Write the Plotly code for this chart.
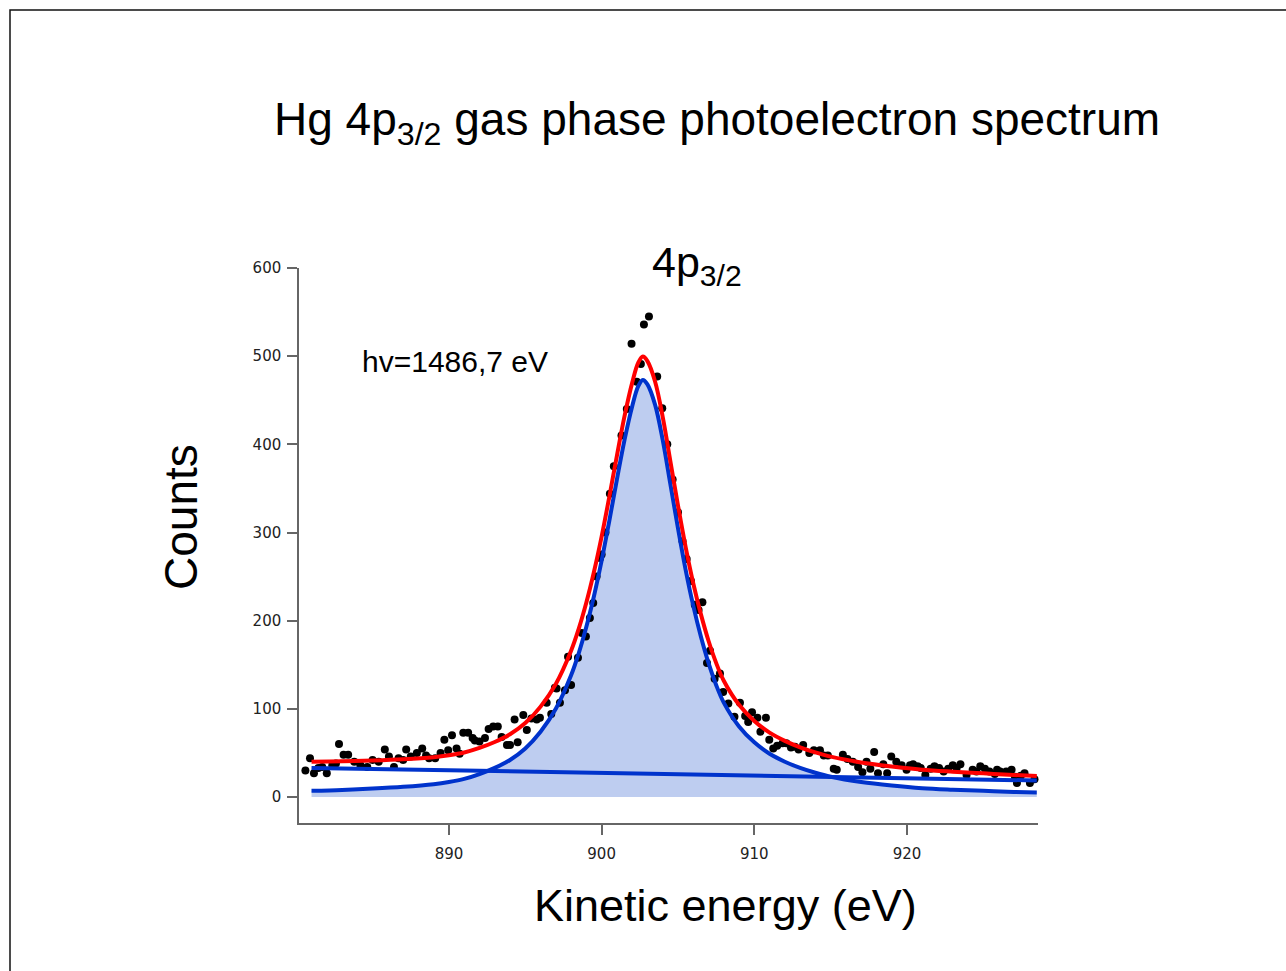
import plotly.graph_objects as go

# ---- measured data points (kinetic energy eV, counts) ----
data_x = [880.6, 880.9, 881.16, 881.45, 881.7, 882.0, 882.36, 882.6, 882.8, 883.1, 883.4, 883.8,
          884.2, 884.65, 885.0, 885.4, 885.8, 886.07, 886.4, 886.7, 887.0, 887.2, 887.5, 887.9,
          888.25, 888.5, 888.7, 889.1, 889.45, 889.7, 889.95, 890.2, 890.5, 890.7, 890.94, 891.26,
          891.55, 891.7, 892.0, 892.36, 892.6, 892.9, 893.2, 893.45, 893.8, 894.0, 894.3, 894.5,
          894.87, 895.1, 895.4, 895.75, 895.96, 896.4, 896.7, 896.94, 897.05, 897.27, 897.6, 897.8,
          898.0, 898.45, 898.7, 898.97, 899.23, 899.45, 899.67, 899.9, 900.0, 900.25, 900.54, 900.8,
          901.3, 901.65, 901.96, 902.3, 902.57, 902.77, 903.1, 903.64, 903.97, 904.3, 904.65, 905.0,
          905.3, 905.57, 905.85, 906.1, 906.35, 906.6, 906.9, 907.1, 907.4, 907.75, 907.96, 908.3,
          908.7, 909.06, 909.4, 909.6, 909.85, 910.2, 910.4, 910.76, 910.98, 911.24, 911.5, 911.85,
          912.1, 912.4, 912.66, 912.9, 913.2, 913.6, 913.9, 914.3, 914.55, 914.82, 915.2, 915.4,
          915.8, 916.1, 916.45, 916.8, 917.08, 917.35, 917.6, 917.85, 918.1, 918.45, 918.7, 918.97,
          919.3, 919.65, 919.97, 920.2, 920.4, 920.7, 920.9, 921.2, 921.55, 921.8, 922.1, 922.4,
          922.7, 923.0, 923.25, 923.5, 923.9, 924.3, 924.55, 924.8, 925.1, 925.4, 925.75, 925.9,
          926.1, 926.5, 926.85, 927.07, 927.2, 927.45, 927.7, 928.05, 928.35, 928.6]
data_y = [30, 44, 27, 33, 34, 27, 36, 38, 60, 48, 48, 40,
          36, 34, 42, 40, 54, 46, 34, 44, 42, 54, 46, 50,
          55, 47, 44, 44, 50, 65, 53, 70, 55, 49, 73, 73,
          67, 64, 63, 67, 77, 80, 80, 68, 59, 59, 88, 62,
          93, 76, 89, 88, 90, 107, 94, 124, 123, 107, 121, 159,
          127, 158, 186, 182, 203, 220, 250, 271, 275, 300, 344, 375,
          410, 440, 514, 471, 491, 536, 545, 477, 441, 400, 360, 323,
          290, 270, 245, 218, 212, 221, 152, 166, 134, 140, 119, 106,
          91, 107, 92, 85, 96, 90, 74, 90, 65, 55, 58, 61,
          61, 56, 57, 54, 59, 50, 53, 53, 47, 47, 32, 31,
          48, 43, 40, 34, 28, 40, 32, 51, 27, 37, 27, 46,
          40, 36, 31, 36, 37, 35, 33, 25, 32, 35, 33, 29,
          32, 36, 33, 37, 25, 31, 29, 35, 32, 29, 26, 31,
          29, 29, 31, 23, 16, 24, 27, 16, 20, 21]

# ---- fitted components ----
fit_x = [881.0, 883, 885, 887, 889, 890, 891, 892, 893, 894, 895, 896, 897, 898, 898.5, 899, 899.5,
         900, 900.5, 901, 901.5, 902, 902.4, 902.7, 903.0, 903.5, 904, 904.5, 905, 905.5, 906,
         906.5, 907, 907.5, 908, 909, 910, 911, 912, 913, 914, 915, 917, 919, 921, 923, 925, 927, 928.5]
peak_y = [7, 8, 9.5, 11.5, 14.5, 17, 20.5, 26, 33, 42, 55, 74, 100, 138, 163, 193, 228,
          268, 313, 360, 405, 443, 466, 473, 468, 445, 405, 355, 305, 258, 217,
          182, 152, 127, 107, 80, 62, 49, 40, 33, 27.5, 23, 17, 13, 10, 8.3, 7, 5.8, 5]
total_y = [40, 40.4, 41.3, 42.7, 45.1, 47.3, 50.5, 55.7, 62.4, 71.1, 83.8, 102.5, 128.2, 165.9, 190.8,
           220.6, 255.5, 295.3, 340.2, 387, 431.9, 469.7, 492.6, 499.5, 494.4, 471.3, 431.1, 381,
           330.8, 283.7, 242.5, 207.4, 177.2, 152.1, 131.9, 104.6, 86.3, 73, 63.7, 56.4, 50.6, 45.8,
           39.2, 34.6, 31, 28.7, 26.8, 25, 23.75]
bg_x = [881.0, 928.5]
bg_y = [33.0, 18.75]

x_ticks = [890, 900, 910, 920]
y_ticks = [0, 100, 200, 300, 400, 500, 600]

BLUE = "rgb(0,51,204)"
FILL = "rgb(190,205,240)"

fig = go.Figure()
fig.add_trace(go.Scatter(x=fit_x, y=peak_y, mode="lines", line=dict(width=0, shape="spline"),
                         fill="tozeroy", fillcolor=FILL, hoverinfo="skip", showlegend=False))
fig.add_trace(go.Scatter(x=data_x, y=data_y, mode="markers",
                         marker=dict(color="black", size=8), showlegend=False, cliponaxis=False))
fig.add_trace(go.Scatter(x=bg_x, y=bg_y, mode="lines", line=dict(color=BLUE, width=4),
                         showlegend=False))
fig.add_trace(go.Scatter(x=fit_x, y=peak_y, mode="lines", line=dict(color=BLUE, width=4, shape="spline"),
                         showlegend=False))
fig.add_trace(go.Scatter(x=fit_x, y=total_y, mode="lines", line=dict(color="rgb(255,0,0)", width=4, shape="spline"),
                         showlegend=False))

axis_common = dict(showgrid=False, zeroline=False, showline=True, linecolor="#666666", linewidth=1.5,
                   ticks="outside", ticklen=10, tickwidth=1.5, tickcolor="#666666",
                   tickfont=dict(family="DejaVu Sans", size=15, color="#222222"))
fig.update_xaxes(range=[880.18, 928.58], tickvals=x_ticks, ticktext=[str(v) for v in x_ticks],
                 ticklabelstandoff=6, **axis_common)
fig.update_yaxes(range=[-29.5, 600], tickvals=y_ticks, ticktext=[str(v) for v in y_ticks],
                 ticklabelstandoff=3, **axis_common)

W, H = 1286, 971
L, R, T, B = 299, 1038, 268, 823
pw, ph = R - L, B - T
def px(x): return (x - L) / pw
def py(y): return (B - y) / ph

ann = [
    dict(text="Hg 4p<sub>3/2</sub> gas phase photoelectron spectrum", x=px(717), y=py(122),
         font=dict(family="Liberation Sans", size=46, color="black")),
    dict(text="4p<sub>3/2</sub>", x=px(697), y=py(265),
         font=dict(family="Liberation Sans", size=43, color="black")),
    dict(text="hv=1486,7 eV", x=px(360), y=py(361), xanchor="left",
         font=dict(family="Liberation Sans", size=30, color="black")),
    dict(text="Counts", x=px(181), y=py(517), textangle=-90,
         font=dict(family="Liberation Sans", size=46, color="black")),
    dict(text="Kinetic energy (eV)", x=px(725), y=py(905),
         font=dict(family="Liberation Sans", size=45, color="black")),
]
for a in ann:
    a.setdefault("xanchor", "center")
    a.update(xref="paper", yref="paper", yanchor="middle", showarrow=False)

fig.update_layout(
    width=W, height=H, margin=dict(l=L, r=W - R, t=T, b=H - B),
    plot_bgcolor="white", paper_bgcolor="white",
    annotations=ann,
    shapes=[dict(type="rect", xref="paper", yref="paper", x0=px(10), y0=py(1000), x1=px(1320), y1=py(10),
                 line=dict(color="#111111", width=1.5), fillcolor="rgba(0,0,0,0)", layer="below")],
)

fig.write_html("out.html", config={"displayModeBar": False},
               post_script="document.body.style.margin='0px';")
